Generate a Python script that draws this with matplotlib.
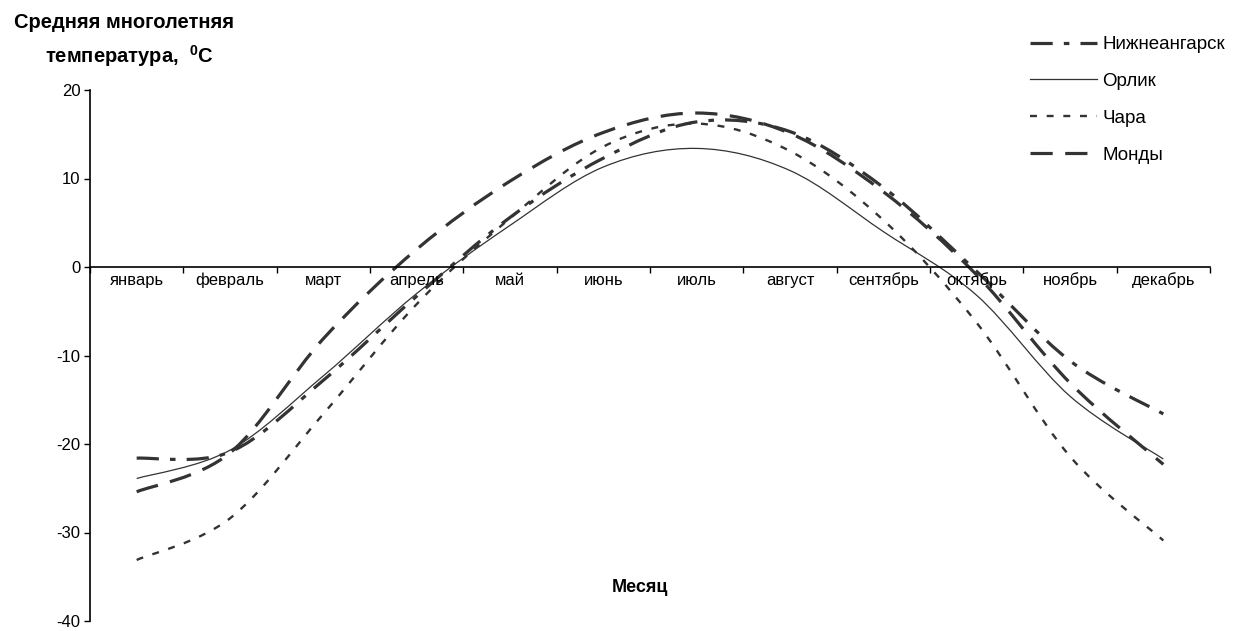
import numpy as np
import matplotlib
matplotlib.use('Agg')
import matplotlib.pyplot as plt
from matplotlib.path import Path
from matplotlib.patches import PathPatch
from matplotlib.lines import Line2D

plt.rcParams['font.family'] = ['Liberation Sans', 'DejaVu Sans']
plt.rcParams['mathtext.fontset'] = 'custom'
plt.rcParams['mathtext.bf'] = 'Liberation Sans:bold'
plt.rcParams['mathtext.rm'] = 'Liberation Sans'
plt.rcParams['lines.scale_dashes'] = False
plt.rcParams['axes.unicode_minus'] = False

months = ['январь', 'февраль', 'март', 'апрель', 'май', 'июнь',
          'июль', 'август', 'сентябрь', 'октябрь', 'ноябрь', 'декабрь']

nizhneangarsk = [-21.6, -20.9, -12.8, -3.3, 5.6, 12.3, 16.4, 15.3, 9.0, -0.5, -10.6, -16.6]
orlik = [-23.9, -20.7, -12.3, -3.0, 4.7, 11.3, 13.4, 10.9, 4.0, -3.2, -14.6, -21.7]
chara = [-33.1, -28.4, -16.6, -4.2, 5.5, 13.6, 16.2, 13.1, 5.3, -6.3, -21.4, -30.9]
mondy = [-25.4, -21.0, -8.1, 2.0, 9.7, 15.2, 17.4, 15.1, 8.5, -0.9, -13.1, -22.3]

col = '#333333'
# label, values, linewidth, dashes
series = [
    ('Нижнеангарск', nizhneangarsk, 2.3, (0, (16, 8, 4, 8))),
    ('Орлик', orlik, 0.9, '-'),
    ('Чара', chara, 1.7, (0, (5, 7))),
    ('Монды', mondy, 2.3, (0, (16, 9))),
]


def smooth_path(xs, ys):
    # excel-like smoothed line: bezier segments through every point
    pts = np.column_stack([xs, ys])
    n = len(pts)
    verts = [pts[0]]
    codes = [Path.MOVETO]
    for i in range(n - 1):
        p0 = pts[max(i - 1, 0)]
        p1 = pts[i]
        p2 = pts[i + 1]
        p3 = pts[min(i + 2, n - 1)]
        c1 = p1 + (p2 - p0) / 6.0
        c2 = p2 - (p3 - p1) / 6.0
        verts += [c1, c2, p2]
        codes += [Path.CURVE4] * 3
    return Path(verts, codes)


fig = plt.figure(figsize=(12.36, 6.31), dpi=100)
ax = fig.add_axes([90 / 1236, 1 - 621 / 631, 1120 / 1236, 531 / 631])

x = np.arange(len(months)) + 0.5
handles = []
for name, vals, lw, ls in series:
    patch = PathPatch(smooth_path(x, vals), fill=False, edgecolor=col,
                      linewidth=lw, linestyle=ls, capstyle='butt', joinstyle='round')
    ax.add_patch(patch)
    handles.append(Line2D([], [], color=col, linewidth=lw, linestyle=ls))

ax.set_xlim(0, 12)
ax.set_ylim(-40, 20)
ax.set_yticks([-40, -30, -20, -10, 0, 10, 20])
ax.set_xticks(np.arange(13))
ax.set_xticklabels([])
ax.set_xticks(x, minor=True)
ax.set_xticklabels(months, minor=True)
ax.tick_params(axis='x', which='major', direction='out', length=4, width=1, color='black')
ax.tick_params(axis='x', which='minor', length=0, pad=4, labelsize=12)
ax.tick_params(axis='y', direction='out', length=4, width=1, labelsize=12, pad=3)

ax.spines['top'].set_visible(False)
ax.spines['right'].set_visible(False)
ax.spines['bottom'].set_position(('data', 0))
ax.spines['bottom'].set_linewidth(1.2)
ax.spines['left'].set_linewidth(1.2)

fig.text(124 / 1236, 1 - 22 / 631, 'Средняя многолетняя', fontsize=14.5, fontweight='bold',
         ha='center', va='center')
fig.text(129 / 1236, 1 - 56 / 631, r'температура,  $^{\mathbf{0}}$C', fontsize=14.5,
         fontweight='bold', ha='center', va='center')
fig.text(640 / 1236, 1 - 588 / 631, 'Месяц', fontsize=13, fontweight='bold',
         ha='center', va='center')

fig.legend(handles, [s[0] for s in series], loc='upper left',
           bbox_to_anchor=(1030 / 1236, 1 - 36 / 631), frameon=False, fontsize=13.5,
           handlelength=3.55, handletextpad=0.3, labelspacing=1.05, borderaxespad=0,
           borderpad=0)

fig.savefig('out.png', dpi=100)
